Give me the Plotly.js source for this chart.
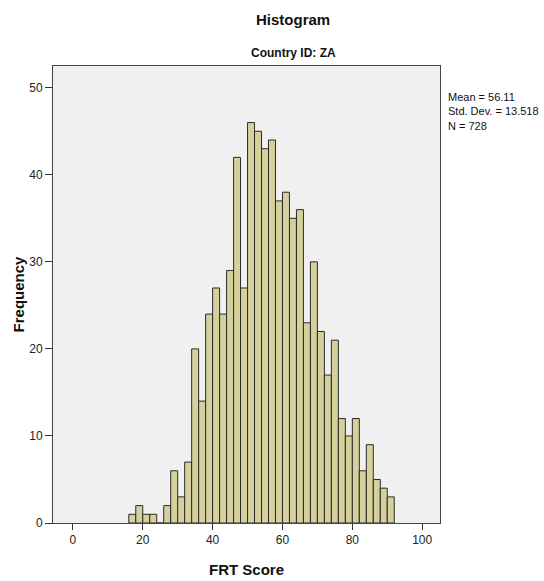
<!DOCTYPE html>
<html>
<head>
<meta charset="utf-8">
<script src="https://cdn.plot.ly/plotly-3.0.1.min.js"></script>
<style>html,body{margin:0;padding:0;background:#fff;}#chart{width:544px;height:581px;}</style>
</head>
<body>
<div id="chart"></div>
<script>
// Bin lower edges (width 2) and frequencies
var binStarts = [16,18,20,22,24,26,28,30,32,34,36,38,40,42,44,46,48,50,52,54,56,58,60,62,64,66,68,70,72,74,76,78,80,82,84,86,88,90];
var counts    = [1,2,1,1,0,2,6,3,7,20,14,24,27,24,29,42,27,46,45,43,44,37,38,35,36,23,30,22,17,21,12,10,12,6,9,5,4,3];
var binWidth = 2;
var xTicks = [0,20,40,60,80,100];
var yTicks = [0,10,20,30,40,50];
var statsLines = ["Mean = 56.11", "Std. Dev. = 13.518", "N = 728"];

var centers = binStarts.map(function(s){ return s + binWidth/2; });
var F = "Liberation Sans Narrow, Arial Narrow, Liberation Sans, Arial, sans-serif";

var trace = {
  type: 'bar',
  x: centers,
  y: counts,
  width: binWidth,
  marker: { color: '#d6d09c', line: { color: '#2a2a2a', width: 1 } },
  hoverinfo: 'x+y'
};

var layout = {
  width: 544, height: 581,
  margin: { l: 53, r: 104, t: 66, b: 58 },
  paper_bgcolor: '#ffffff',
  plot_bgcolor: '#f0f0f0',
  showlegend: false,
  bargap: 0,
  font: { family: F, color: '#111', size: 12 },
  xaxis: {
    range: [-5.7, 105.1],
    tickvals: xTicks,
    ticktext: xTicks.map(String),
    ticks: 'outside', ticklen: 6, tickcolor: '#333',
    showgrid: false, zeroline: false,
    showline: true, mirror: true, linecolor: '#444', linewidth: 1,
    tickfont: { family: F, size: 12, color: '#222' },
    title: { text: '<b>FRT Score</b>', font: { family: F, size: 15, color: '#111' }, standoff: 18 }
  },
  yaxis: {
    range: [0, 52.5],
    tickvals: yTicks,
    ticktext: yTicks.map(String),
    ticks: 'outside', ticklen: 7, tickcolor: '#333',
    showgrid: false, zeroline: false,
    showline: true, mirror: true, linecolor: '#444', linewidth: 1,
    tickfont: { family: F, size: 12, color: '#222' },
    title: { text: '<b>Frequency</b>', font: { family: F, size: 15, color: '#111' }, standoff: 0 }
  },
  annotations: [
    { text: '<b>Histogram</b>', xref: 'paper', yref: 'paper', x: (293-53)/387, y: 1 + (66-19)/457.3,
      xanchor: 'center', yanchor: 'middle', showarrow: false, font: { family: F, size: 15, color: '#111' } },
    { text: '<b>Country ID: ZA</b>', xref: 'paper', yref: 'paper', x: (293-53)/387, y: 1 + (66-53)/457.3,
      xanchor: 'center', yanchor: 'middle', showarrow: false, font: { family: F, size: 12, color: '#111' } },
    { text: statsLines.join('<br>'), xref: 'paper', yref: 'paper', x: (446-53)/387, y: 1 - (89-66)/457.3,
      xanchor: 'left', yanchor: 'top', align: 'left', showarrow: false, font: { family: F, size: 11, color: '#111' } }
  ]
};

Plotly.newPlot('chart', [trace], layout, { displayModeBar: false, staticPlot: true });
</script>
</body>
</html>
